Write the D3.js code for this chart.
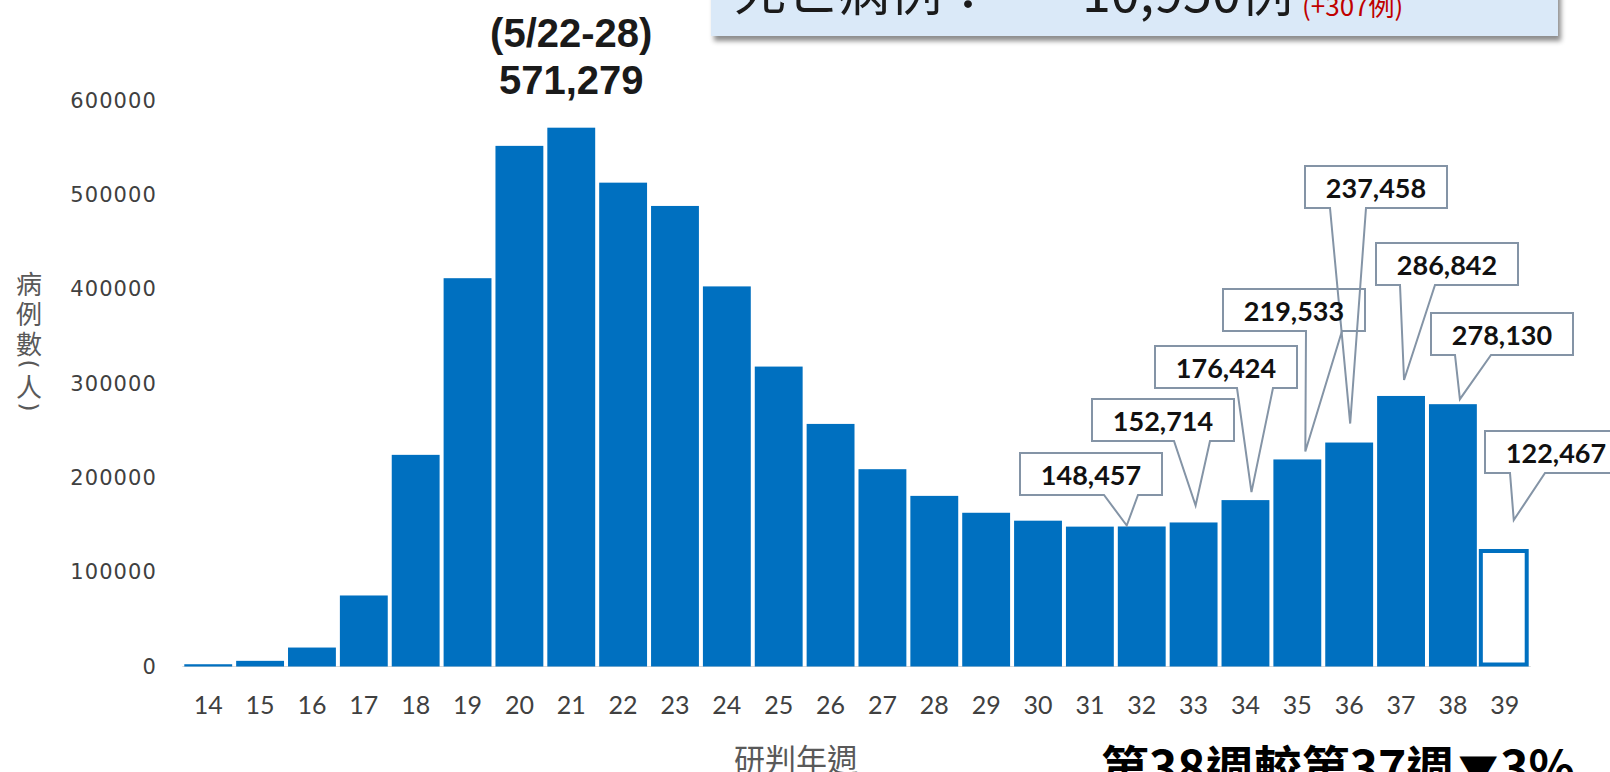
<!DOCTYPE html>
<html>
<head>
<meta charset="utf-8">
<script src="https://cdn.jsdelivr.net/npm/d3@7/dist/d3.min.js"></script>
<style>
  html, body { margin: 0; padding: 0; background: #ffffff; }
  svg { display: block; }
</style>
</head>
<body>
<svg id="chart" width="1610" height="772"></svg>
<script>
// ---------------- data ----------------
const weeks = ["14","15","16","17","18","19","20","21","22","23","24","25","26",
               "27","28","29","30","31","32","33","34","35","36","37","38","39"];
const cases = [2400, 6000, 20100, 75300, 224400, 411700, 552000, 571279, 513000, 488300,
               403000, 318000, 257200, 209200, 180900, 163000, 154600, 148300, 148457,
               152714, 176424, 219533, 237458, 286842, 278130, 122467];
const yTicks = [0, 100000, 200000, 300000, 400000, 500000, 600000];
const partialWeek = "39";
const peakWeek = "21";
const peakDates = "(5/22-28)";
const calloutWeeks = ["32","33","34","35","36","37","38","39"];
const yTitle = ["病","例","數","(","人",")"];
const xTitle = "研判年週";
const bannerLabel = "死亡病例：";
const bannerTotal = "10,950例";
const bannerDelta = "(+307例)";
const footnoteParts = ["第38週較第37週", "▼", "3%"];

// ---------------- layout ----------------
const calloutLayout = {
  "32": {x0: 1020, y0: 453, tipDx: -15, gap: 1,  base: [84, 118]},
  "33": {x0: 1092, y0: 399, tipDx: 2,   gap: 17, base: [82, 118]},
  "34": {x0: 1155, y0: 346, tipDx: 6,   gap: 8,  base: [82, 118]},
  "35": {x0: 1223, y0: 289, tipDx: 8,   gap: 8,  base: [83, 119]},
  "36": {x0: 1305, y0: 166, tipDx: 1,   gap: 19, base: [25, 61]},
  "37": {x0: 1376, y0: 243, tipDx: 3,   gap: 16, base: [24, 59]},
  "38": {x0: 1431, y0: 313, tipDx: 7,   gap: 5,  base: [24, 60]},
  "39": {x0: 1485, y0: 431, tipDx: 9,   gap: 31, base: [25, 60]}
};
const boxW = 142, boxH = 42;

const svg = d3.select("#chart");
const byWeek = new Map(weeks.map((w, i) => [w, cases[i]]));

const x = d3.scaleBand().domain(weeks).range([182.3, 1530.7])
  .paddingInner(0.077).paddingOuter(0.0385);
const y = d3.scaleLinear().domain([0, 600000]).range([666.5, 100.6]);

const blue = "#0070C0";

// shadow filter for banner
const defs = svg.append("defs");
const f = defs.append("filter").attr("id", "shadow")
  .attr("x", "-5%").attr("y", "-50%").attr("width", "110%").attr("height", "200%");
f.append("feDropShadow").attr("dx", 3).attr("dy", 5).attr("stdDeviation", 2.5)
  .attr("flood-color", "#000").attr("flood-opacity", 0.45);

// baseline
svg.append("line")
  .attr("x1", x.range()[0]).attr("x2", x.range()[1])
  .attr("y1", y(0)).attr("y2", y(0))
  .attr("stroke", "#d9d9d9").attr("stroke-width", 1);

// bars
svg.append("g").selectAll("rect")
  .data(weeks.map((w, i) => ({w, v: cases[i]})))
  .join("rect")
  .attr("x", d => x(d.w))
  .attr("width", d => d.w === partialWeek ? x.bandwidth() - 2 : x.bandwidth())
  .attr("y", d => y(d.v))
  .attr("height", d => y(0) - y(d.v) - (d.w === partialWeek ? 2 : 0))
  .attr("fill", d => d.w === partialWeek ? "#ffffff" : blue)
  .attr("stroke", d => d.w === partialWeek ? blue : "none")
  .attr("stroke-width", 4);

// y axis
const yAxis = d3.axisLeft(y).tickValues(yTicks).tickSize(0).tickPadding(0)
  .tickFormat(d3.format("d"));
const gy = svg.append("g").attr("transform", "translate(157,0)").call(yAxis);
gy.select(".domain").remove();
gy.selectAll("text")
  .attr("font-family", "DejaVu Sans")
  .attr("font-size", 21)
  .attr("letter-spacing", "1.1px")
  .attr("fill", "#404040");

// x axis
const xAxis = d3.axisBottom(x).tickSize(0).tickPadding(0);
const gx = svg.append("g").attr("transform", "translate(0,696)").call(xAxis);
gx.select(".domain").remove();
gx.selectAll("text")
  .attr("dy", "0.72em")
  .attr("font-family", "Lato")
  .attr("font-size", 25)
  .attr("fill", "#404040");

// y title (vertical)
const yt = svg.append("g").attr("font-family", "Noto Sans CJK TC")
  .attr("font-size", 26).attr("fill", "#595959");
const yCenters = [282, 312, 342, 364, 385, 407];
yTitle.forEach((c, i) => {
  if (c === "(" || c === ")") {
    yt.append("text").attr("transform", `translate(29,${yCenters[i]}) rotate(90)`)
      .attr("text-anchor", "middle").attr("dominant-baseline", "central")
      .attr("font-family", "DejaVu Sans").attr("font-size", 23)
      .text(c);
  } else {
    yt.append("text").attr("x", 29).attr("y", yCenters[i])
      .attr("text-anchor", "middle").attr("dominant-baseline", "central")
      .text(c);
  }
});

// x title
svg.append("text").attr("x", 796).attr("y", 771)
  .attr("text-anchor", "middle")
  .attr("font-family", "Noto Sans CJK TC").attr("font-size", 31)
  .attr("fill", "#595959").text(xTitle);

// peak label
const pk = x(peakWeek) + x.bandwidth() / 2;
svg.append("text").attr("x", pk).attr("y", 47).attr("text-anchor", "middle")
  .attr("font-family", "Liberation Sans").attr("font-weight", "bold")
  .attr("font-size", 40).attr("fill", "#1a1a1a").text(peakDates);
svg.append("text").attr("x", pk).attr("y", 94).attr("text-anchor", "middle")
  .attr("font-family", "Liberation Sans").attr("font-weight", "bold")
  .attr("font-size", 40).attr("fill", "#1a1a1a").text(d3.format(",")(byWeek.get(peakWeek)));

// callouts
const fmt = d3.format(",");
const cData = calloutWeeks.map(w => {
  const L = calloutLayout[w];
  const v = byWeek.get(w);
  const tx = x(w) + x.bandwidth() / 2 + L.tipDx;
  const ty = y(v) - L.gap;
  const x0 = L.x0, y0 = L.y0, x1 = x0 + boxW, y1 = y0 + boxH;
  const path = `M${x0},${y0}H${x1}V${y1}H${x0 + L.base[1]}L${tx},${ty}L${x0 + L.base[0]},${y1}H${x0}Z`;
  return {w, v, path, cx: x0 + boxW / 2, cy: y0 + boxH / 2};
});
const cg = svg.append("g");
cg.selectAll("path.fill").data(cData).join("path").attr("class", "fill")
  .attr("d", d => d.path).attr("fill", "#ffffff").attr("stroke", "none");
cg.selectAll("path.line").data(cData).join("path").attr("class", "line")
  .attr("d", d => d.path).attr("fill", "none")
  .attr("stroke", "#8494a6").attr("stroke-width", 2).attr("stroke-linejoin", "miter");
cg.selectAll("text").data(cData).join("text")
  .attr("x", d => d.cx).attr("y", d => d.cy)
  .attr("text-anchor", "middle").attr("dominant-baseline", "central")
  .attr("font-family", "Lato").attr("font-weight", "bold")
  .attr("font-size", 27).attr("fill", "#111111")
  .text(d => fmt(d.v));

// banner
svg.append("rect").attr("x", 711).attr("y", -20).attr("width", 847).attr("height", 56)
  .attr("fill", "#DAE9F8").attr("filter", "url(#shadow)");
svg.append("text").attr("x", 734).attr("y", 11)
  .attr("font-family", "Noto Sans CJK TC").attr("font-size", 52)
  .attr("fill", "#1a1a1a").text(bannerLabel);
svg.append("text").attr("x", 1082).attr("y", 12)
  .attr("font-family", "Noto Sans CJK TC").attr("font-size", 52)
  .attr("fill", "#1a1a1a").text(bannerTotal);
svg.append("text").attr("x", 1302).attr("y", 16)
  .attr("font-family", "Noto Sans CJK TC").attr("font-size", 26)
  .attr("fill", "#C00000").text(bannerDelta);

// footnote
const fn = svg.append("text").attr("x", 1101).attr("y", 786)
  .attr("font-family", "Noto Sans CJK TC").attr("font-weight", "bold")
  .attr("font-size", 48).attr("fill", "#000");
fn.append("tspan").text(footnoteParts[0]);
fn.append("tspan").attr("font-size", 40).attr("dx", 4).text(footnoteParts[1]);
fn.append("tspan").attr("dx", 2).text(footnoteParts[2]);
</script>
</body>
</html>
